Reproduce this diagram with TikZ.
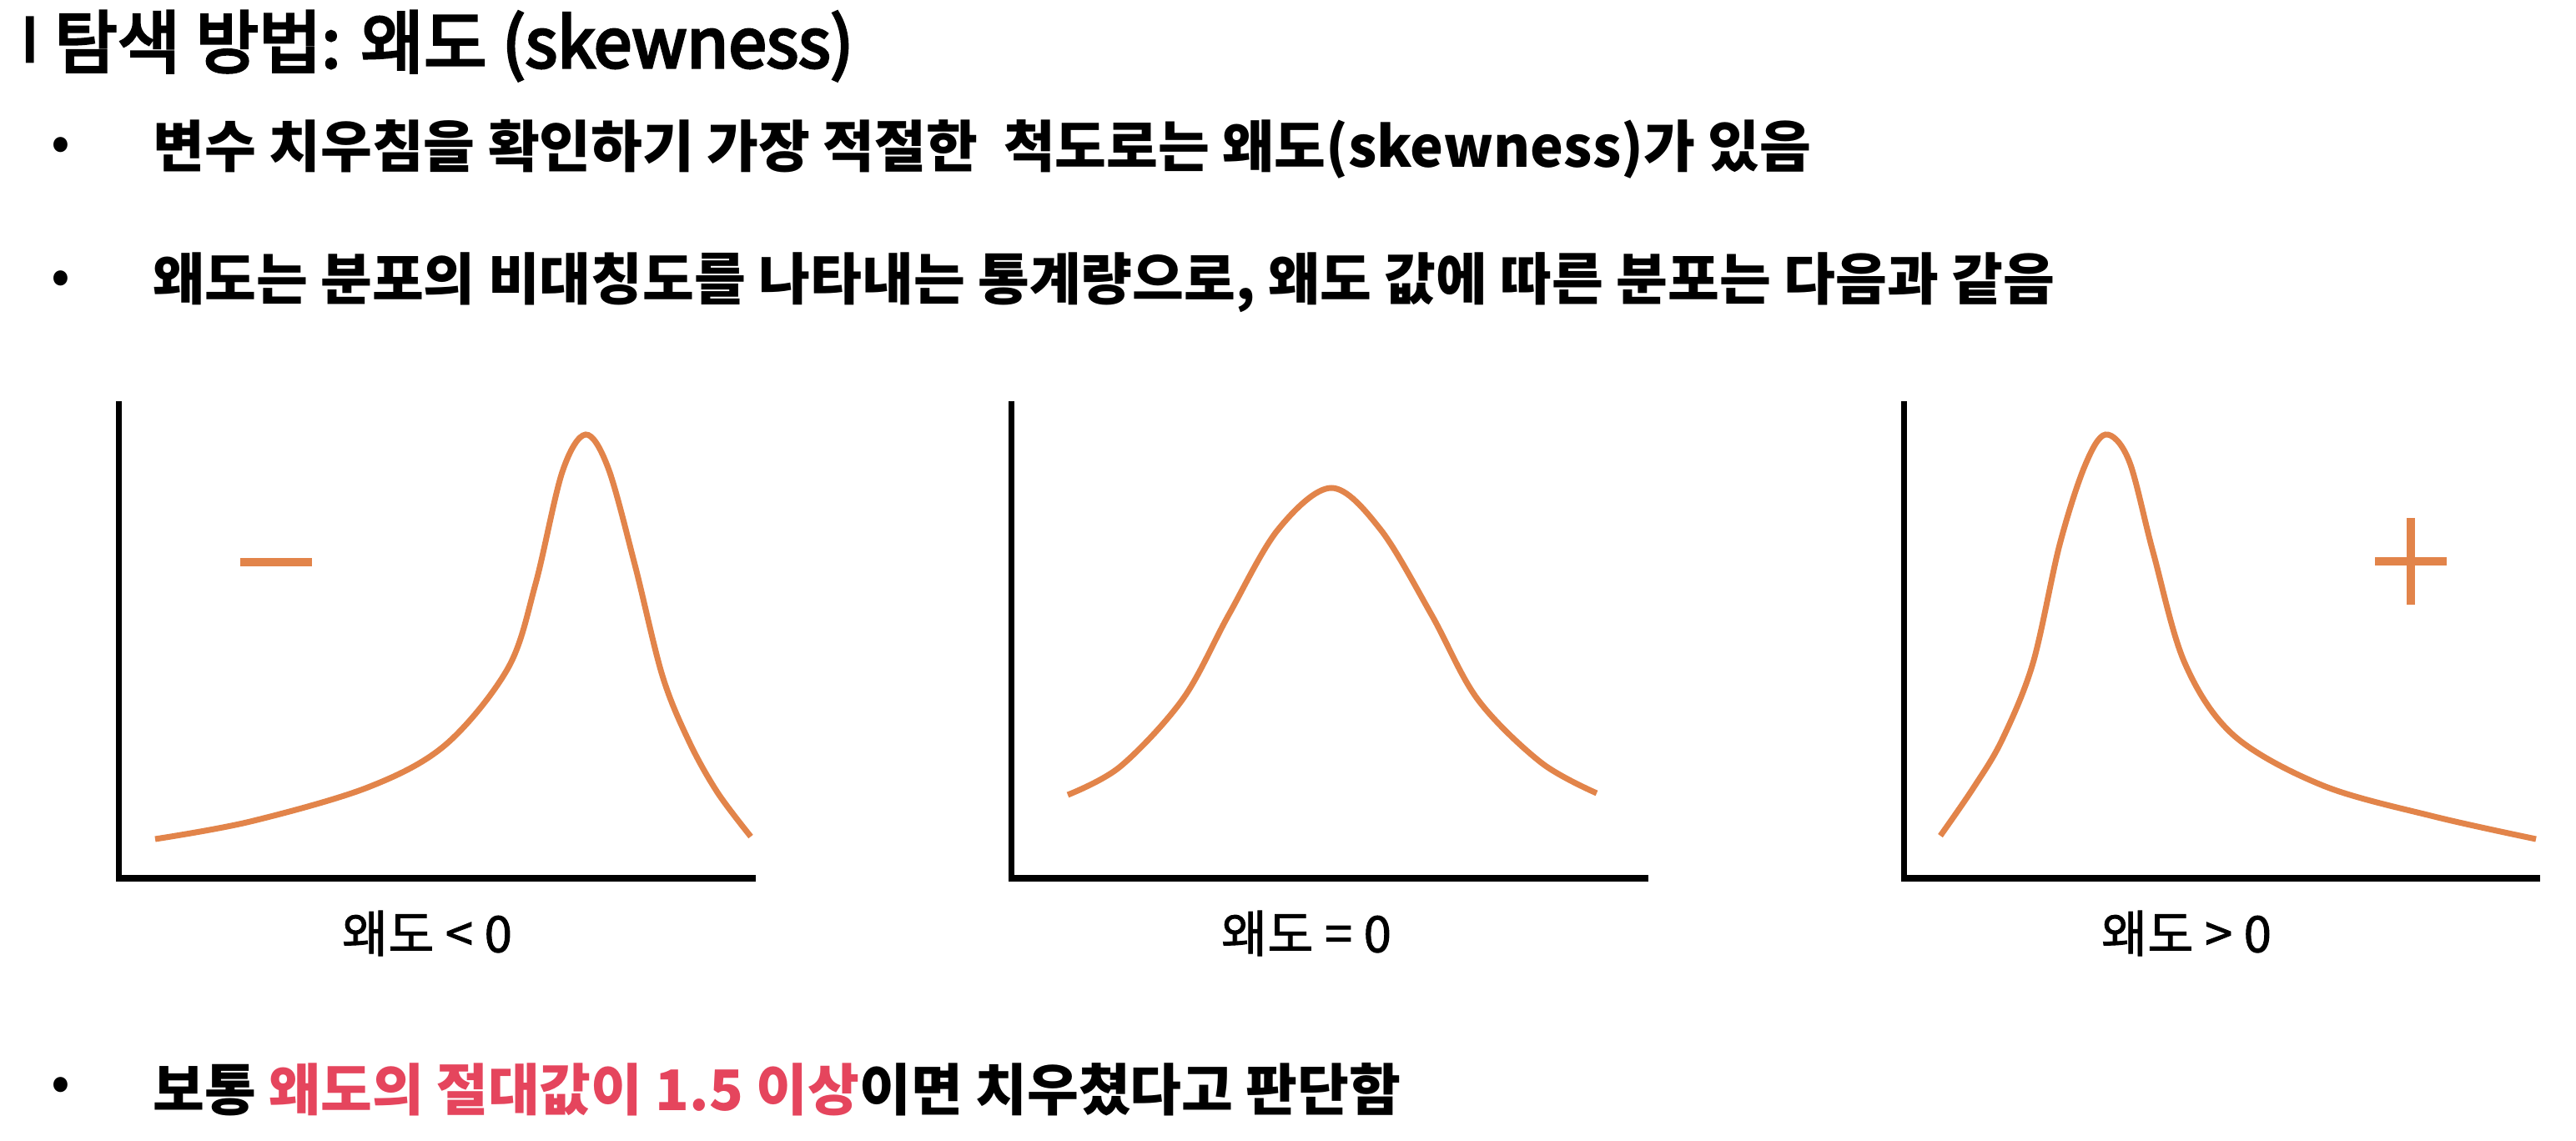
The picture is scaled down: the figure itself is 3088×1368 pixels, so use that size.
\documentclass[tikz,border=0pt]{standalone}
\usepackage{fontspec}
\setmainfont{Noto Sans CJK KR}
\newfontfamily\krmed{Noto Sans CJK KR}[FakeBold=4]
\newfontfamily\krlab{Noto Sans CJK KR}[FakeBold=1.5]
\definecolor{curveorange}{HTML}{E2844A}
\definecolor{accentred}{HTML}{E5455D}
\begin{document}
\begin{tikzpicture}[x=0.5pt,y=-0.5pt,
  axisline/.style={line width=3.75pt, black},
  distcurve/.style={line width=3.5pt, draw=curveorange},
  signline/.style={line width=5pt, draw=curveorange},
  titletext/.style={anchor=west, inner sep=0pt, font=\fontsize{41}{48}\selectfont\krmed},
  bulletline/.style={anchor=west, inner sep=0pt, font=\fontsize{33.6}{40}\selectfont\bfseries},
  bulletdot/.style={inner sep=0pt, font=\fontsize{33.6}{40}\selectfont},
  axislabel/.style={inner sep=0pt, font=\fontsize{30}{36}\selectfont\krlab}]
\useasboundingbox[fill=white] (0,0) rectangle (3088,1368);

% title
\node[inner sep=0pt, font=\fontsize{30}{36}\selectfont\bfseries] (bar) at (36,48) {ㅣ};
\node[titletext] (title) at (65,55) {탐색 방법: 왜도 (skewness)};

% bullets
\node[bulletdot] (b1) at (73,179) {•};
\node[bulletline] (t1) at (183,179) {변수 치우침을 확인하기 가장 적절한~~척도로는 왜도(skewness)가 있음};
\node[bulletdot] (b2) at (73,339) {•};
\node[bulletline] (t2) at (183,339) {왜도는 분포의 비대칭도를 나타내는 통계량으로, 왜도 값에 따른 분포는 다음과 같음};
\node[bulletdot] (b3) at (73,1306) {•};
\node[bulletline] (t3) at (183,1306) {보통 {\color{accentred}왜도의 절대값이 1.5 이상}이면 치우쳤다고 판단함};

% chart 1 (negative skew)
\coordinate (y1t) at (142.5,481);
\coordinate (o1) at (142.5,1053);
\coordinate (x1e) at (906,1053);
\draw[axisline] (y1t) -- (o1) -- (x1e);
\draw[distcurve] plot[smooth, tension=0.55] coordinates {
  (186,1006) (300,985) (441,944) (534,893) (609,801) (642,700)
  (674,566) (702,521) (729,561) (761,677) (794,810)
  (826,889) (860,950) (900,1003)};
\coordinate (m1a) at (288,674);
\coordinate (m1b) at (374,674);
\draw[signline] (m1a) -- (m1b);
\node[axislabel] (l1) at (512,1119) {왜도 < 0};

% chart 2 (symmetric)
\coordinate (y2t) at (1212.5,481);
\coordinate (o2) at (1212.5,1053);
\coordinate (x2e) at (1976,1053);
\draw[axisline] (y2t) -- (o2) -- (x2e);
\draw[distcurve] plot[smooth, tension=0.55] coordinates {
  (1280,953) (1343,919) (1418,838) (1473,737) (1532,635)
  (1596,585) (1655,635) (1716,737) (1771,838) (1847,914) (1914,951)};
\node[axislabel] (l2) at (1566,1119) {왜도 = 0};

% chart 3 (positive skew)
\coordinate (y3t) at (2282.5,481);
\coordinate (o3) at (2282.5,1053);
\coordinate (x3e) at (3045,1053);
\draw[axisline] (y3t) -- (o3) -- (x3e);
\draw[distcurve] plot[smooth, tension=0.55] coordinates {
  (2326,1002) (2366,944) (2400,887) (2437,795) (2469,653) (2499,559)
  (2524,521) (2552,552) (2581,662) (2619,795)
  (2678,882) (2785,942) (2918,979) (3040,1006)};
\coordinate (p3a) at (2847,673);
\coordinate (p3b) at (2933,673);
\coordinate (p3c) at (2890,621);
\coordinate (p3d) at (2890,725);
\draw[signline] (p3a) -- (p3b);
\draw[signline] (p3c) -- (p3d);
\node[axislabel] (l3) at (2621,1119) {왜도 > 0};
\end{tikzpicture}
\end{document}
